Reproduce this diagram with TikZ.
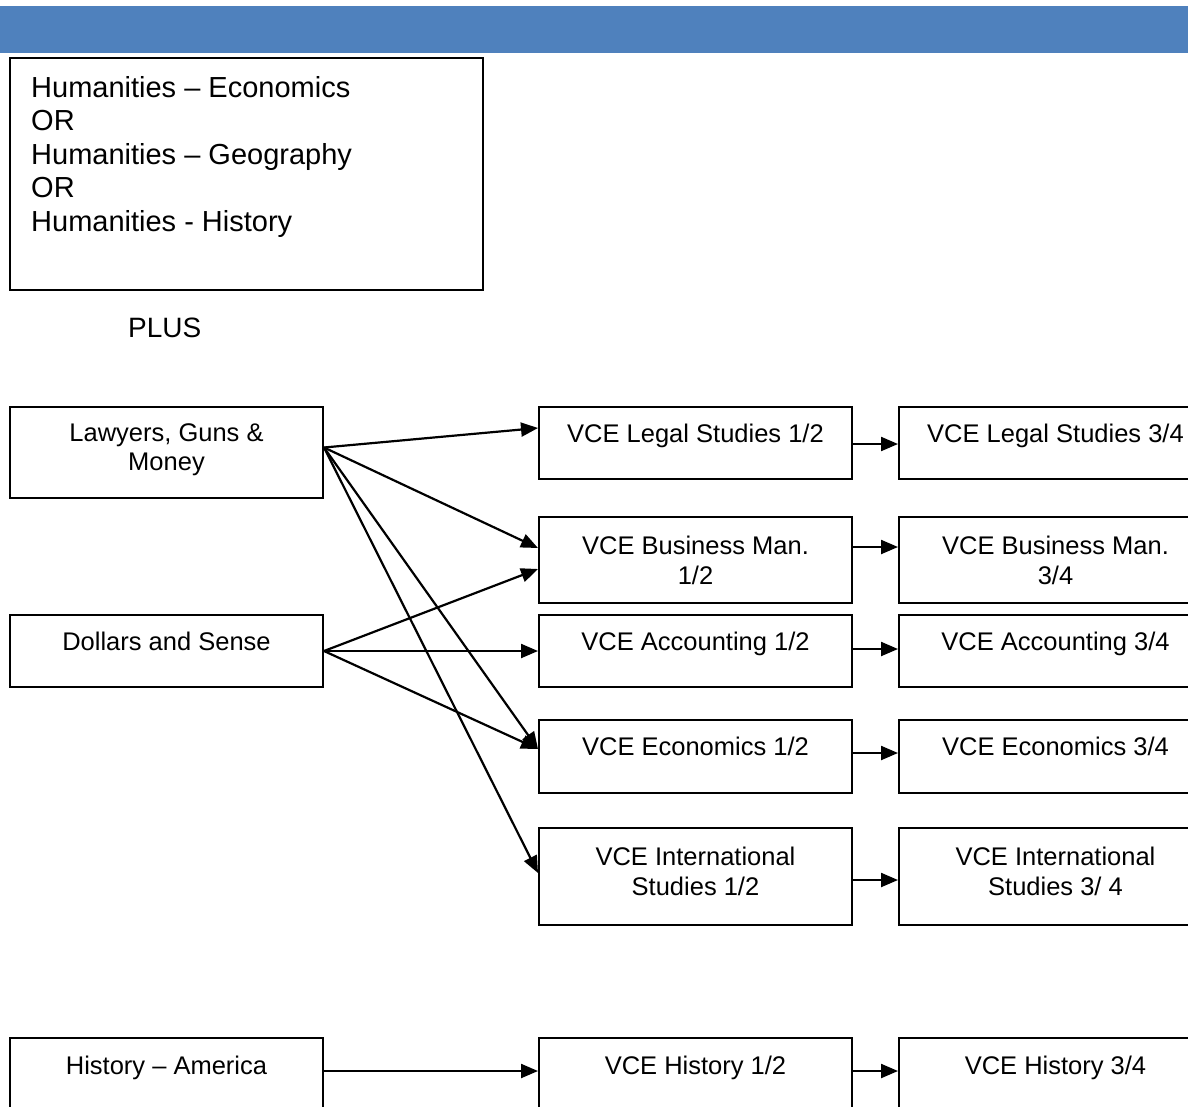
\documentclass[tikz,border=0pt]{standalone}
\usepackage{fontspec}
\setmainfont{Liberation Sans}
\usetikzlibrary{arrows.meta}
\definecolor{barblue}{HTML}{4F81BD}
\begin{document}
\begin{tikzpicture}[x=1pt,y=-1pt,
  box/.style={draw, line width=2pt, rectangle, inner sep=0pt, anchor=north west,
              minimum width=313pt},
  lbl/.style={inner sep=0pt, anchor=north, align=center,
              font=\fontsize{25.5}{29.5}\selectfont},
  arr/.style={line width=2.2pt, -{Triangle[length=17pt,width=14pt]}}]
\useasboundingbox (0,0) rectangle (1188,1106);
\clip (0,0) rectangle (1188,1106);
% header bar
\fill[barblue] (0,6) rectangle (1188,53);
% top box
\node[box, line width=1.6pt, minimum width=473pt, minimum height=232pt] (hum) at (9,57) {};
\node[inner sep=0pt, anchor=north west, align=left,
      font=\fontsize{29}{33.5}\selectfont] (humtxt) at ([xshift=22pt,yshift=-19pt]hum.north west)
  {Humanities – Economics\\OR\\Humanities – Geography\\OR\\Humanities - History};
\node[inner sep=0pt, anchor=north west, font=\fontsize{28}{33}\selectfont] (plus) at (128,318) {PLUS};
% left column
\node[box, minimum height=91pt] (law) at (9,406) {};
\node[lbl] (lawt) at ([yshift=-17pt]law.north) {Lawyers, Guns \&\\Money};
\node[box, minimum height=72pt] (dol) at (9,614) {};
\node[lbl] (dolt) at ([yshift=-18pt]dol.north) {Dollars and Sense};
\node[box, minimum height=100pt] (ham) at (9,1037) {};
\node[lbl] (hamt) at ([yshift=-19pt]ham.north) {History – America};
% middle column
\node[box, minimum height=72pt] (leg12) at (538,406) {};
\node[lbl] (leg12t) at ([yshift=-18pt]leg12.north) {VCE Legal Studies 1/2};
\node[box, minimum height=86pt] (bus12) at (538,516) {};
\node[lbl] (bus12t) at ([yshift=-20pt]bus12.north) {VCE Business Man.\\1/2};
\node[box, minimum height=72pt] (acc12) at (538,614) {};
\node[lbl] (acc12t) at ([yshift=-18pt]acc12.north) {VCE Accounting 1/2};
\node[box, minimum height=73pt] (eco12) at (538,719) {};
\node[lbl] (eco12t) at ([yshift=-18pt]eco12.north) {VCE Economics 1/2};
\node[box, minimum height=97pt] (int12) at (538,827) {};
\node[lbl] (int12t) at ([yshift=-20pt]int12.north) {VCE International\\Studies 1/2};
\node[box, minimum height=100pt] (his12) at (538,1037) {};
\node[lbl] (his12t) at ([yshift=-19pt]his12.north) {VCE History 1/2};
% right column
\node[box, minimum height=72pt] (leg34) at (898,406) {};
\node[lbl] (leg34t) at ([yshift=-18pt]leg34.north) {VCE Legal Studies 3/4};
\node[box, minimum height=86pt] (bus34) at (898,516) {};
\node[lbl] (bus34t) at ([yshift=-20pt]bus34.north) {VCE Business Man.\\3/4};
\node[box, minimum height=72pt] (acc34) at (898,614) {};
\node[lbl] (acc34t) at ([yshift=-18pt]acc34.north) {VCE Accounting 3/4};
\node[box, minimum height=73pt] (eco34) at (898,719) {};
\node[lbl] (eco34t) at ([yshift=-18pt]eco34.north) {VCE Economics 3/4};
\node[box, minimum height=97pt] (int34) at (898,827) {};
\node[lbl] (int34t) at ([yshift=-20pt]int34.north) {VCE International\\Studies 3/ 4};
\node[box, minimum height=100pt] (his34) at (898,1037) {};
\node[lbl] (his34t) at ([yshift=-19pt]his34.north) {VCE History 3/4};
% connector origins
\coordinate (lo) at ([yshift=5pt]law.east);
\coordinate (do) at (dol.east);
% arrows from Lawyers
\draw[arr] (lo) -- ([yshift=15pt]leg12.west);
\draw[arr] (lo) -- ([yshift=12pt]bus12.west);
\draw[arr] (lo) -- ([yshift=7.5pt]eco12.west);
\draw[arr] (lo) -- ([yshift=3.5pt]int12.west);
% arrows from Dollars
\draw[arr] (do) -- ([yshift=-9pt]bus12.west);
\draw[arr] (do) -- (acc12.west);
\draw[arr] (do) -- ([yshift=7.5pt]eco12.west);
% history
\draw[arr] ([yshift=17pt]ham.east) -- ([yshift=17pt]his12.west);
\draw[arr] ([yshift=17pt]his12.east) -- ([yshift=17pt]his34.west);
% 1/2 -> 3/4
\draw[arr] ([yshift=-1pt]leg12.east) -- ([yshift=-1pt]leg34.west);
\draw[arr] ([yshift=13pt]bus12.east) -- ([yshift=13pt]bus34.west);
\draw[arr] ([yshift=2pt]acc12.east) -- ([yshift=2pt]acc34.west);
\draw[arr] ([yshift=3.5pt]eco12.east) -- ([yshift=3.5pt]eco34.west);
\draw[arr] ([yshift=-3.5pt]int12.east) -- ([yshift=-3.5pt]int34.west);
\end{tikzpicture}
\end{document}
